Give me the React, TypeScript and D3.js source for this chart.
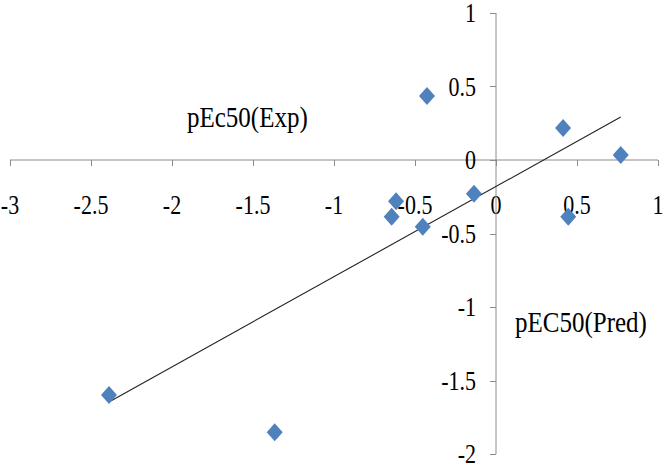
import React from "react";
import * as d3 from "d3";

const predValues = [-0.426, 0.414, 0.77, -0.136, -0.617, -0.644, -0.452, 0.446, -2.389, -1.366];
const expValues = [0.435, 0.218, 0.034, -0.23, -0.28, -0.386, -0.454, -0.386, -1.599, -1.852];
const xTicks = [-3, -2.5, -2, -1.5, -1, -0.5, 0, 0.5, 1];
const yTicks = [-2, -1.5, -1, -0.5, 0, 0.5, 1];

const width = 667;
const height = 465;
const axisColor = "#8c8c8c";
const markerColor = "#4f81bd";
const font = "'Liberation Serif', 'Times New Roman', serif";
const stretch = 1.2;

// least squares fit for the trend line
function linearFit(xs: number[], ys: number[]) {
  const mx = d3.mean(xs) as number;
  const my = d3.mean(ys) as number;
  let sxy = 0;
  let sxx = 0;
  xs.forEach((x, i) => {
    sxy += (x - mx) * (ys[i] - my);
    sxx += (x - mx) * (x - mx);
  });
  const slope = sxy / sxx;
  return { slope, intercept: my - slope * mx };
}

function Label(props: { x: number; y: number; size: number; anchor?: string; children: React.ReactNode }) {
  return (
    <text
      transform={`translate(${props.x},${props.y}) scale(1,${stretch})`}
      fontFamily={font}
      fontSize={props.size}
      textAnchor={props.anchor || "start"}
      fill="#000"
    >
      {props.children}
    </text>
  );
}

export default function App() {
  const xScale = d3.scaleLinear().domain([-3, 1]).range([10, 658]);
  const yScale = d3.scaleLinear().domain([-2, 1]).range([454, 13]);

  const fit = linearFit(predValues, expValues);
  const [x0, x1] = d3.extent(predValues) as [number, number];
  const line = d3
    .line<number>()
    .x(d => xScale(d))
    .y(d => yScale(fit.slope * d + fit.intercept));

  // excel style diamond marker
  const diamond = "M0,-9L8,0L0,9L-8,0Z";

  return (
    <svg
      width={width}
      height={height}
      style={{ position: "absolute", left: 0, top: 0, background: "#fff" }}
    >
      {/* x axis through y = 0 */}
      <line x1={xScale(-3)} x2={xScale(1)} y1={yScale(0)} y2={yScale(0)} stroke={axisColor} />
      {xTicks.map(t => (
        <g key={"x" + t}>
          <line
            x1={Math.round(xScale(t)) + 0.5}
            x2={Math.round(xScale(t)) + 0.5}
            y1={yScale(0)}
            y2={yScale(0) + 6}
            stroke={axisColor}
          />
          <Label x={xScale(t)} y={yScale(0) + 54} size={22} anchor="middle">
            {String(t)}
          </Label>
        </g>
      ))}

      {/* y axis through x = 0 */}
      <line x1={xScale(0)} x2={xScale(0)} y1={yScale(1)} y2={yScale(-2)} stroke={axisColor} />
      {yTicks.map(t => (
        <g key={"y" + t}>
          <line
            x1={xScale(0) - 6}
            x2={xScale(0)}
            y1={Math.round(yScale(t)) + 0.5}
            y2={Math.round(yScale(t)) + 0.5}
            stroke={axisColor}
          />
          <Label x={xScale(0) - 20} y={yScale(t) + 9} size={22} anchor="end">
            {String(t)}
          </Label>
        </g>
      ))}

      {/* trend line */}
      <path d={line([x0, x1]) as string} fill="none" stroke="#222" strokeWidth={1.1} />

      {predValues.map((x, i) => (
        <path
          key={i}
          d={diamond}
          transform={`translate(${xScale(x)},${yScale(expValues[i])})`}
          fill={markerColor}
        />
      ))}

      <Label x={187} y={127} size={25}>
        pEc50(Exp)
      </Label>
      <Label x={515} y={332} size={25}>
        pEC50(Pred)
      </Label>
    </svg>
  );
}
